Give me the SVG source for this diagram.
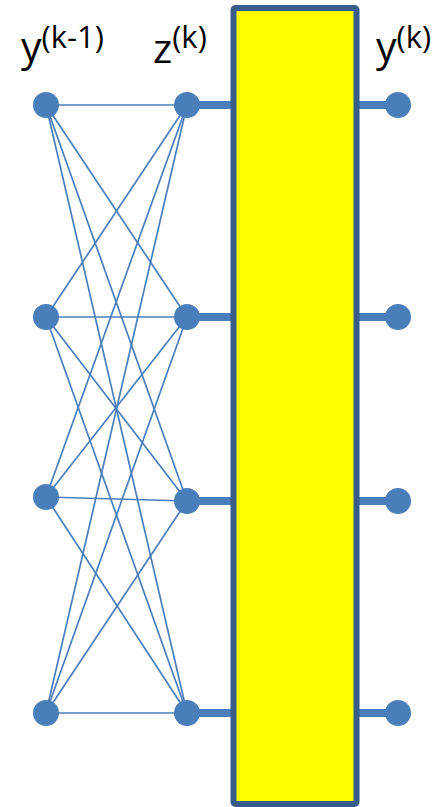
<svg xmlns="http://www.w3.org/2000/svg" width="439" height="807" viewBox="0 0 439 807">
<style>
.thin{stroke:#4A7EBB;stroke-width:1.7;fill:none}
.thick{stroke:#4A7EBB;stroke-width:8;fill:none}
.node{fill:#4A7EBB}
.lbl{font-family:"Open Sans","DejaVu Sans",sans-serif;font-size:41px;fill:#000}
.sup{font-size:31px}
</style>
<rect width="439" height="807" fill="#fff"/>
<g id="connectors">
<line class="thin" x1="46" y1="105" x2="187" y2="105"/>
<line class="thin" x1="46" y1="105" x2="187" y2="317"/>
<line class="thin" x1="46" y1="105" x2="187" y2="501"/>
<line class="thin" x1="46" y1="105" x2="187" y2="713"/>
<line class="thin" x1="46" y1="317" x2="187" y2="105"/>
<line class="thin" x1="46" y1="317" x2="187" y2="317"/>
<line class="thin" x1="46" y1="317" x2="187" y2="501"/>
<line class="thin" x1="46" y1="317" x2="187" y2="713"/>
<line class="thin" x1="46" y1="497" x2="187" y2="105"/>
<line class="thin" x1="46" y1="497" x2="187" y2="317"/>
<line class="thin" x1="46" y1="497" x2="187" y2="501"/>
<line class="thin" x1="46" y1="497" x2="187" y2="713"/>
<line class="thin" x1="46" y1="713" x2="187" y2="105"/>
<line class="thin" x1="46" y1="713" x2="187" y2="317"/>
<line class="thin" x1="46" y1="713" x2="187" y2="501"/>
<line class="thin" x1="46" y1="713" x2="187" y2="713"/>
<line class="thick" x1="187" y1="105" x2="236" y2="105"/>
<line class="thick" x1="187" y1="317" x2="236" y2="317"/>
<line class="thick" x1="187" y1="501" x2="236" y2="501"/>
<line class="thick" x1="187" y1="713" x2="236" y2="713"/>
<line class="thick" x1="354" y1="105" x2="398" y2="105"/>
<line class="thick" x1="354" y1="317" x2="398" y2="317"/>
<line class="thick" x1="354" y1="501" x2="398" y2="501"/>
<line class="thick" x1="354" y1="713" x2="398" y2="713"/>
</g>
<g id="block">
<rect x="233.5" y="8" width="123" height="796" rx="2" fill="#FFFF00" stroke="#385D8A" stroke-width="6"/>
</g>
<g id="left-nodes">
<circle id="l1" class="node" cx="46" cy="105" r="13"/>
<circle id="l2" class="node" cx="46" cy="317" r="13"/>
<circle id="l3" class="node" cx="46" cy="497" r="13"/>
<circle id="l4" class="node" cx="46" cy="713" r="13"/>
</g>
<g id="mid-nodes">
<circle id="m1" class="node" cx="187" cy="105" r="13"/>
<circle id="m2" class="node" cx="187" cy="317" r="13"/>
<circle id="m3" class="node" cx="187" cy="501" r="13"/>
<circle id="m4" class="node" cx="187" cy="713" r="13"/>
</g>
<g id="right-nodes">
<circle id="r1" class="node" cx="398" cy="105" r="13"/>
<circle id="r2" class="node" cx="398" cy="317" r="13"/>
<circle id="r3" class="node" cx="398" cy="501" r="13"/>
<circle id="r4" class="node" cx="398" cy="713" r="13"/>
</g>
<g id="labels">
<text class="lbl" x="21" y="61">y<tspan class="sup" dy="-13">(k-1)</tspan></text>
<text class="lbl" x="153" y="63">z<tspan class="sup" dy="-15">(k)</tspan></text>
<text class="lbl" x="376" y="61">y<tspan class="sup" dy="-13">(k)</tspan></text>
</g>
</svg>
